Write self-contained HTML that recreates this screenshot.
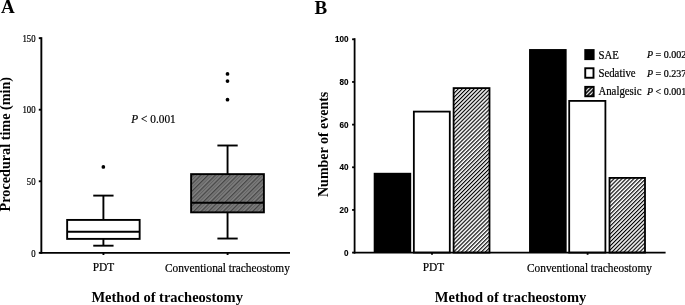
<!DOCTYPE html>
<html>
<head>
<meta charset="utf-8">
<style>
html,body{margin:0;padding:0;background:#fff;}
body{width:685px;height:305px;overflow:hidden;}
svg{display:block;will-change:transform;}
.s{font-family:"Liberation Serif",serif;stroke:#000;stroke-width:0.22px;}
.b{font-family:"Liberation Serif",serif;font-weight:bold;}
.ss{font-family:"Liberation Sans",sans-serif;font-weight:bold;stroke:#000;stroke-width:0.15px;}
</style>
</head>
<body>
<svg width="685" height="305" viewBox="0 0 685 305">
<defs>
<pattern id="hb" width="2.8" height="2.8" patternUnits="userSpaceOnUse" patternTransform="rotate(45)">
<rect x="0" y="0" width="1.15" height="2.8" fill="#000"/>
</pattern>
<pattern id="hl" width="2.8" height="2.8" patternUnits="userSpaceOnUse" patternTransform="translate(584,86) rotate(45)">
<rect x="0" y="0" width="1.6" height="2.8" fill="#000"/>
</pattern>
<pattern id="ha" width="5.2" height="5.2" patternUnits="userSpaceOnUse" patternTransform="rotate(45)">
<rect x="0" y="0" width="5.2" height="5.2" fill="#7c7c7c"/>
<rect x="0" y="0" width="1.2" height="5.2" fill="#444"/>
<rect x="2.6" y="0" width="0.9" height="5.2" fill="#606060"/>
</pattern>
</defs>
<text class="b" x="1" y="12.7" font-size="19">A</text>
<text class="b" font-size="15" text-anchor="middle" transform="translate(10,144.15) rotate(-90) scale(0.946,1)">Procedural time (min)</text>
<g stroke="#000" stroke-width="1.9" fill="none">
<line x1="41.35" y1="37.2" x2="41.35" y2="253.8"/>
<line x1="40.4" y1="252.85" x2="290" y2="252.85"/>
<line x1="38.8" y1="252.85" x2="41.35" y2="252.85"/>
<line x1="38.8" y1="181.28" x2="41.35" y2="181.28"/>
<line x1="38.8" y1="109.72" x2="41.35" y2="109.72"/>
<line x1="38.8" y1="38.16" x2="41.35" y2="38.16"/>
<line x1="103.45" y1="252.85" x2="103.45" y2="255"/>
<line x1="227.6" y1="252.85" x2="227.6" y2="255"/>
</g>
<g class="s" font-size="9.5" text-anchor="end" transform="translate(35.5,0) scale(0.92,1)">
<text x="0" y="41.86">150</text>
<text x="0" y="113.42">100</text>
<text x="0" y="184.98">50</text>
<text x="0" y="256.55">0</text>
</g>
<g stroke="#000" stroke-width="1.9" fill="none">
<line x1="103.4" y1="195.6" x2="103.4" y2="219.93"/>
<line x1="93.25" y1="195.6" x2="113.55" y2="195.6"/>
<line x1="103.4" y1="238.89" x2="103.4" y2="245.69"/>
<line x1="93.25" y1="245.69" x2="113.55" y2="245.69"/>
<rect x="67.15" y="219.93" width="72.5" height="18.96" fill="#fff"/>
<line x1="67.15" y1="231.74" x2="139.65" y2="231.74"/>
</g>
<circle cx="103.35" cy="166.97" r="1.85" fill="#000"/>
<g stroke="#000" stroke-width="1.9" fill="none">
<line x1="227.55" y1="145.5" x2="227.55" y2="174.13"/>
<line x1="217.4" y1="145.5" x2="237.7" y2="145.5"/>
<line x1="227.55" y1="212.34" x2="227.55" y2="238.54"/>
<line x1="217.4" y1="238.54" x2="237.7" y2="238.54"/>
<rect x="191.1" y="174.13" width="72.8" height="38.22" fill="url(#ha)"/>
<line x1="191.1" y1="202.75" x2="263.9" y2="202.75"/>
</g>
<circle cx="227.5" cy="73.94" r="1.85" fill="#000"/>
<circle cx="227.5" cy="81.09" r="1.85" fill="#000"/>
<circle cx="227.5" cy="99.7" r="1.85" fill="#000"/>
<text class="s" font-size="12.8" transform="translate(131.3,122.5) scale(0.885,1)"><tspan font-style="italic">P</tspan> &lt; 0.001</text>
<text class="s" font-size="12" text-anchor="middle" transform="translate(103.55,271.3) scale(0.95,1)">PDT</text>
<text class="s" font-size="12.6" text-anchor="middle" transform="translate(227.4,271.5) scale(0.9,1)">Conventional tracheostomy</text>
<text class="b" font-size="15" text-anchor="middle" transform="translate(167.15,301.6) scale(0.968,1)">Method of tracheostomy</text>
<text class="b" x="314.5" y="13.7" font-size="19">B</text>
<text class="b" font-size="15" text-anchor="middle" transform="translate(327.7,144.35) rotate(-90) scale(0.932,1)">Number of events</text>
<rect x="373.7" y="172.8" width="37.5" height="79.8" fill="#000"/>
<rect x="529.05" y="49.05" width="37.6" height="203.55" fill="#000"/>
<rect x="413.85" y="111.6" width="35.95" height="141" fill="#fff" stroke="#000" stroke-width="1.8"/>
<rect x="453.6" y="88.1" width="35.9" height="164.5" fill="url(#hb)" stroke="#000" stroke-width="1.8"/>
<rect x="569.2" y="100.9" width="36.2" height="151.7" fill="#fff" stroke="#000" stroke-width="1.8"/>
<rect x="609.5" y="177.9" width="35.5" height="74.7" fill="url(#hb)" stroke="#000" stroke-width="1.8"/>
<g stroke="#000" stroke-width="1.8" fill="none">
<line x1="354.6" y1="38.2" x2="354.6" y2="253.5"/>
<line x1="353.8" y1="252.6" x2="665.6" y2="252.6"/>
<line x1="352.1" y1="252.6" x2="354.6" y2="252.6"/>
<line x1="352.1" y1="209.94" x2="354.6" y2="209.94"/>
<line x1="352.1" y1="167.28" x2="354.6" y2="167.28"/>
<line x1="352.1" y1="124.62" x2="354.6" y2="124.62"/>
<line x1="352.1" y1="81.96" x2="354.6" y2="81.96"/>
<line x1="352.1" y1="39.3" x2="354.6" y2="39.3"/>
<line x1="432.0" y1="252.6" x2="432.0" y2="254.8"/>
<line x1="587.6" y1="252.6" x2="587.6" y2="254.8"/>
</g>
<g class="ss" font-size="9.2" text-anchor="end" transform="translate(348.6,0) scale(0.88,1)">
<text x="0" y="42.4">100</text>
<text x="0" y="85.06">80</text>
<text x="0" y="127.72">60</text>
<text x="0" y="170.38">40</text>
<text x="0" y="213.04">20</text>
<text x="0" y="255.7">0</text>
</g>
<rect x="584.3" y="49.1" width="10.3" height="11" fill="#000"/>
<rect x="585.25" y="68.25" width="8.25" height="9.5" fill="#fff" stroke="#000" stroke-width="1.9"/>
<rect x="585.25" y="86.85" width="8.4" height="9.4" fill="url(#hl)" stroke="#000" stroke-width="1.9"/>
<text class="s" font-size="11.5" transform="translate(598.4,58.6) scale(0.94,1)">SAE</text>
<text class="s" font-size="11.5" transform="translate(598.4,76.7) scale(0.94,1)">Sedative</text>
<text class="s" font-size="11.5" transform="translate(598.4,94.9) scale(0.94,1)">Analgesic</text>
<text class="s" font-size="10" transform="translate(646.9,57.7) scale(1.0,1)"><tspan font-style="italic">P</tspan> = 0.002</text>
<text class="s" font-size="10" transform="translate(646.9,76.8) scale(1.0,1)"><tspan font-style="italic">P</tspan> = 0.237</text>
<text class="s" font-size="10" transform="translate(646.9,95.3) scale(1.0,1)"><tspan font-style="italic">P</tspan> &lt; 0.001</text>
<text class="s" font-size="12" text-anchor="middle" transform="translate(433.4,271.3) scale(0.95,1)">PDT</text>
<text class="s" font-size="12.6" text-anchor="middle" transform="translate(589.45,271.5) scale(0.9,1)">Conventional tracheostomy</text>
<text class="b" font-size="15" text-anchor="middle" transform="translate(510.5,302) scale(0.968,1)">Method of tracheostomy</text>
</svg>
</body>
</html>
